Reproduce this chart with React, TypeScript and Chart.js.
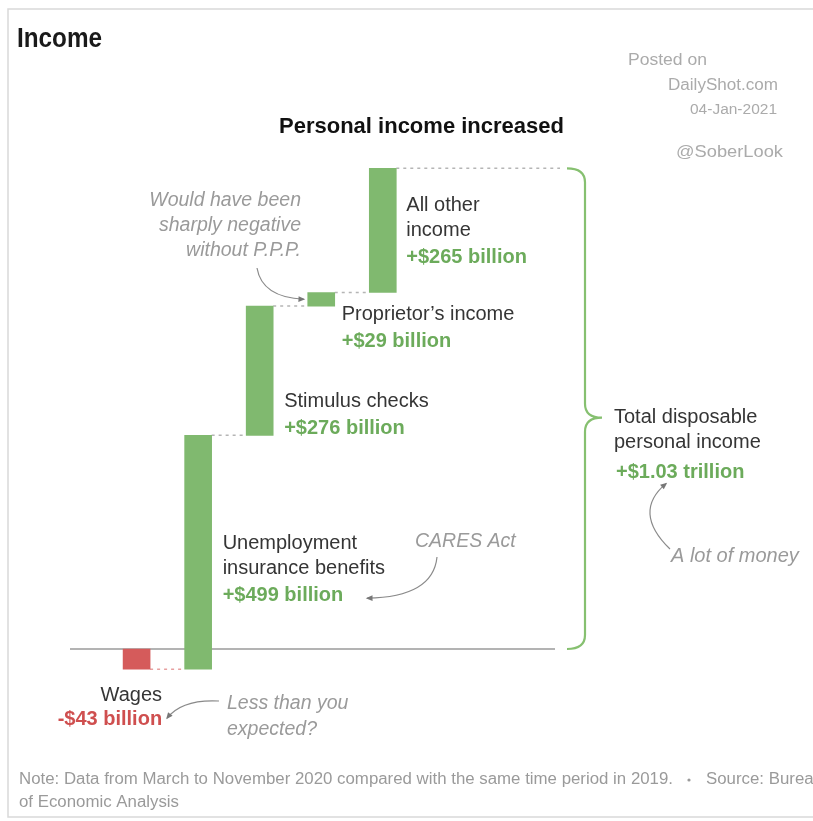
import React, { useEffect, useRef } from 'react';
import { Chart, registerables } from 'chart.js';

Chart.register(...registerables);

// ---- Data (billions of dollars, March–Nov 2020 vs same period 2019) ----
const categories = ['Wages', 'Unemployment insurance benefits', 'Stimulus checks', 'Proprietor’s income', 'All other income'];
const labelLines = [['Wages'], ['Unemployment', 'insurance benefits'], ['Stimulus checks'], ['Proprietor’s income'], ['All other', 'income']];
const changes = [-43, 499, 276, 29, 265];
const yMin = -100;
const yMax = 1100;

const titleText = 'Income';
const subtitleText = 'Personal income increased';
const watermark = ['Posted on', 'DailyShot.com', '04-Jan-2021', '@SoberLook'];
const totalLines = ['Total disposable', 'personal income'];
const noteLine1 = 'Note: Data from March to November 2020 compared with the same time period in 2019.';
const sourceText = 'Source: Bureau';
const noteLine2 = 'of Economic Analysis';
const pppNote = ['Would have been', 'sharply negative', 'without P.P.P.'];
const caresNote = 'CARES Act';
const wagesNote = ['Less than you', 'expected?'];
const moneyNote = 'A lot of money';

// ---- Styles ----
const GREEN = '#80b96f';
const GREEN_TEXT = '#6cab5b';
const RED = '#d55b5b';
const RED_TEXT = '#cf4f4f';
const DARK = '#353535';
const NOTE = '#9a9a9a';
const FONT = '"Liberation Sans", Arial, sans-serif';

const starts: number[] = [];
const ends: number[] = [];
{
  let acc = 0;
  changes.forEach((c) => {
    starts.push(acc);
    acc += c;
    ends.push(acc);
  });
}
const total = ends[ends.length - 1];
const fmt = (v: number) => `${v >= 0 ? '+' : '-'}$${Math.abs(v)} billion`;
const totalLabel = `+$${(total / 1000).toFixed(2)} trillion`;

// label placement relative to each bar: dx from bar right edge, reference edge, dy, align
const labelPlacement = [
  { dx: 12, ref: 'bottom', dy: 26, align: 'right' },
  { dx: 11, ref: 'bottom', dy: -126, align: 'left' },
  { dx: 11, ref: 'bottom', dy: -34, align: 'left' },
  { dx: 7, ref: 'bottom', dy: 8, align: 'left' },
  { dx: 10, ref: 'top', dy: 37, align: 'left' },
];

function fitText(ctx: CanvasRenderingContext2D, text: string, x: number, y: number, width: number, align: 'left' | 'right' = 'left') {
  const w = ctx.measureText(text).width;
  const s = width / w;
  ctx.save();
  ctx.translate(align === 'left' ? x : x - width, y);
  ctx.scale(s, 1);
  ctx.textAlign = 'left';
  ctx.fillText(text, 0, 0);
  ctx.restore();
}

function curvedArrow(ctx: CanvasRenderingContext2D, x0: number, y0: number, cx: number, cy: number, x1: number, y1: number) {
  ctx.beginPath();
  ctx.moveTo(x0, y0);
  ctx.quadraticCurveTo(cx, cy, x1, y1);
  ctx.stroke();
  const ang = Math.atan2(y1 - cy, x1 - cx);
  const L = 6;
  ctx.beginPath();
  ctx.moveTo(x1 + 1.5 * Math.cos(ang), y1 + 1.5 * Math.sin(ang));
  ctx.lineTo(x1 - L * Math.cos(ang - 0.5), y1 - L * Math.sin(ang - 0.5));
  ctx.lineTo(x1 - L * Math.cos(ang + 0.5), y1 - L * Math.sin(ang + 0.5));
  ctx.closePath();
  ctx.fill();
}

const overlayPlugin = {
  id: 'overlay',
  beforeDraw(chart: any) {
    const { ctx, width, height } = chart;
    ctx.save();
    ctx.fillStyle = '#ffffff';
    ctx.fillRect(0, 0, width, height);
    ctx.strokeStyle = '#d9d9d9';
    ctx.lineWidth = 1.5;
    ctx.strokeRect(8, 9, width + 40, 808);
    ctx.restore();
  },
  beforeDatasetsDraw(chart: any) {
    const { ctx, chartArea } = chart;
    const y = chart.scales.y;
    const meta = chart.getDatasetMeta(0);
    ctx.save();
    // zero line
    ctx.strokeStyle = '#b3b3b3';
    ctx.lineWidth = 2;
    ctx.beginPath();
    ctx.moveTo(chartArea.left, y.getPixelForValue(0));
    ctx.lineTo(chartArea.right, y.getPixelForValue(0));
    ctx.stroke();
    // connectors
    ctx.lineWidth = 1.5;
    ctx.setLineDash([3, 4]);
    for (let i = 0; i < changes.length; i++) {
      const bar = meta.data[i];
      const yy = y.getPixelForValue(ends[i]);
      const x0 = bar.x + bar.width / 2;
      const x1 = i < changes.length - 1 ? meta.data[i + 1].x - meta.data[i + 1].width / 2 : chartArea.right + 5;
      ctx.strokeStyle = changes[i] < 0 ? '#e7a0a0' : '#b5b5b5';
      ctx.beginPath();
      ctx.moveTo(x0, yy);
      ctx.lineTo(x1, yy);
      ctx.stroke();
    }
    ctx.restore();
  },
  afterDatasetsDraw(chart: any) {
    const { ctx, chartArea } = chart;
    const y = chart.scales.y;
    const meta = chart.getDatasetMeta(0);
    ctx.save();

    // Title
    ctx.fillStyle = '#1a1a1a';
    ctx.font = `bold 27px ${FONT}`;
    ctx.textBaseline = 'alphabetic';
    fitText(ctx, titleText, 17, 47, 85);

    // watermark
    ctx.fillStyle = '#ababab';
    ctx.font = `16px ${FONT}`;
    fitText(ctx, watermark[0], 628, 65, 79);
    fitText(ctx, watermark[1], 778, 90, 110, 'right');
    ctx.font = `14px ${FONT}`;
    fitText(ctx, watermark[2], 777, 114, 87, 'right');
    ctx.font = `17px ${FONT}`;
    fitText(ctx, watermark[3], 676, 157, 107);

    // subtitle
    ctx.fillStyle = '#111';
    ctx.font = `bold 22px ${FONT}`;
    fitText(ctx, subtitleText, 279, 133, 285);

    // bar labels
    ctx.textBaseline = 'middle';
    const valueEnds: { x: number; y: number }[] = [];
    for (let i = 0; i < changes.length; i++) {
      const bar = meta.data[i];
      const p = labelPlacement[i];
      const right = bar.x + bar.width / 2;
      const refY = p.ref === 'top' ? y.getPixelForValue(ends[i]) : y.getPixelForValue(Math.min(starts[i], ends[i]));
      const x = right + p.dx;
      const yy = refY + p.dy;
      ctx.textAlign = p.align as CanvasTextAlign;
      ctx.font = `20px ${FONT}`;
      ctx.fillStyle = DARK;
      labelLines[i].forEach((line, k) => {
        ctx.fillText(line, x, yy + k * 25);
      });
      const vy = yy + (labelLines[i].length - 1) * 25 + (changes[i] < 0 ? 24 : 27);
      ctx.font = `bold 20px ${FONT}`;
      ctx.fillStyle = changes[i] < 0 ? RED_TEXT : GREEN_TEXT;
      const vt = fmt(changes[i]);
      ctx.fillText(vt, x, vy);
      const w = ctx.measureText(vt).width;
      valueEnds.push({ x: p.align === 'left' ? x + w : x, y: vy });
    }

    // bracket
    const yTop = y.getPixelForValue(total);
    const yBot = y.getPixelForValue(0);
    const yMid = (yTop + yBot) / 2 + 9;
    const L = chartArea.right + 12;
    const S = chartArea.right + 30;
    const T = chartArea.right + 47;
    const r = 14;
    ctx.strokeStyle = '#86c070';
    ctx.lineWidth = 2.2;
    ctx.beginPath();
    ctx.moveTo(L, yTop);
    ctx.quadraticCurveTo(S, yTop, S, yTop + r);
    ctx.lineTo(S, yMid - r);
    ctx.quadraticCurveTo(S, yMid, T, yMid);
    ctx.quadraticCurveTo(S, yMid, S, yMid + r);
    ctx.lineTo(S, yBot - r);
    ctx.quadraticCurveTo(S, yBot, L, yBot);
    ctx.stroke();

    // total label
    const tx = T + 12;
    ctx.textAlign = 'left';
    ctx.font = `20px ${FONT}`;
    ctx.fillStyle = DARK;
    ctx.fillText(totalLines[0], tx, yMid);
    ctx.fillText(totalLines[1], tx, yMid + 25);
    ctx.font = `bold 20px ${FONT}`;
    ctx.fillStyle = GREEN_TEXT;
    ctx.fillText(totalLabel, tx + 2, yMid + 55);

    // annotations
    ctx.font = `italic 19.5px ${FONT}`;
    ctx.fillStyle = NOTE;
    ctx.strokeStyle = '#8a8a8a';
    ctx.lineWidth = 1.2;
    ctx.setLineDash([]);

    // PPP note
    const b3 = meta.data[3];
    ctx.textAlign = 'right';
    pppNote.forEach((t, k) => ctx.fillText(t, 301, 201 + k * 25));
    const ax = b3.x - b3.width / 2 - 4;
    const ay = y.getPixelForValue((starts[3] + ends[3]) / 2);
    ctx.fillStyle = '#777';
    curvedArrow(ctx, 257, 268, 262, ay - 2, ax, ay);

    // CARES note
    ctx.fillStyle = NOTE;
    ctx.textAlign = 'left';
    ctx.fillText(caresNote, 415, 542);
    const ve1 = valueEnds[1];
    ctx.fillStyle = '#777';
    curvedArrow(ctx, 437, 557, 433, ve1.y + 2, ve1.x + 24, ve1.y + 3);

    // Wages note
    ctx.fillStyle = NOTE;
    wagesNote.forEach((t, k) => ctx.fillText(t, 227, 704 + k * 26));
    const ve0 = valueEnds[0];
    ctx.fillStyle = '#777';
    curvedArrow(ctx, 219, 701, 182, 699, ve0.x + 5, ve0.y - 1);

    // money note
    ctx.fillStyle = NOTE;
    ctx.font = `italic 20px ${FONT}`;
    ctx.fillText(moneyNote, tx + 57, 556);
    ctx.fillStyle = '#777';
    curvedArrow(ctx, tx + 56, 549, tx + 18, 512, tx + 52, yMid + 66);

    // footer
    ctx.textBaseline = 'middle';
    ctx.fillStyle = '#9a9a9a';
    ctx.font = `16px ${FONT}`;
    const nw = ctx.measureText(noteLine1).width;
    const s = 654 / nw;
    fitText(ctx, noteLine1, 19, 780, 654);
    ctx.beginPath();
    ctx.arc(689, 780, 1.6, 0, Math.PI * 2);
    ctx.fill();
    fitText(ctx, sourceText, 706, 780, ctx.measureText(sourceText).width * s);
    fitText(ctx, noteLine2, 19, 803, ctx.measureText(noteLine2).width * s);

    ctx.restore();
  },
};

export default function App() {
  const ref = useRef<HTMLCanvasElement | null>(null);
  useEffect(() => {
    document.body.style.margin = '0';
    const canvas = ref.current!;
    const chart = new Chart(canvas, {
      type: 'bar',
      data: {
        labels: categories,
        datasets: [
          {
            label: 'Change',
            data: changes.map((c, i) => ({ x: i, y: [starts[i], ends[i]] })) as any,
            backgroundColor: changes.map((c) => (c < 0 ? RED : GREEN)),
            borderWidth: 0,
            barThickness: 27,
          },
        ],
      },
      options: {
        responsive: false,
        animation: false,
        events: [],
        layout: { padding: { left: 70, right: 258, top: 133.65, bottom: 125.15 } },
        scales: {
          x: { type: 'linear', min: -1.082, max: 6.798, offset: false, display: false },
          y: { type: 'linear', min: yMin, max: yMax, display: false },
        },
        plugins: {
          legend: { display: false },
          tooltip: { enabled: false },
          title: { display: false },
        },
      },
      plugins: [overlayPlugin],
    });
    return () => chart.destroy();
  }, []);
  return (
    <div style={{ position: 'absolute', left: 0, top: 0, width: 813, height: 821 }}>
      <canvas ref={ref} width={813} height={821} style={{ width: 813, height: 821, display: 'block' }} />
    </div>
  );
}
